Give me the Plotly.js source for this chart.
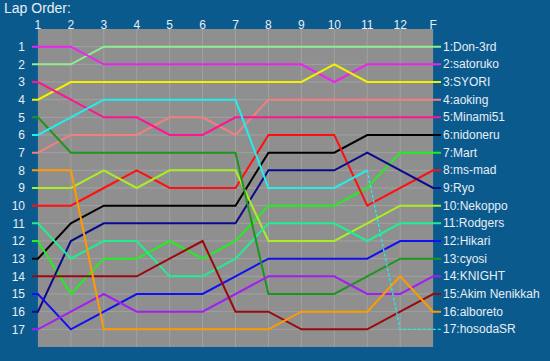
<!DOCTYPE html>
<html>
<head>
<meta charset="utf-8">
<script src="https://cdn.plot.ly/plotly-3.0.1.min.js"></script>
<style>html,body{margin:0;padding:0;background:#0b5a8d;}#chart{width:550px;height:361px;}</style>
</head>
<body>
<div id="chart"></div>
<script>
// Lap labels (x categories)
const lapLabels = ['1','2','3','4','5','6','7','8','9','10','11','12','F'];

// Driver names (final order)
const drivers = ['Don-3rd','satoruko','SYORI','aoking','Minami51','nidoneru','Mart','ms-mad','Ryo','Nekoppo','Rodgers','Hikari','cyosi','KNIGHT','Akim Nenikkah','alboreto','hosodaSR'];

// Positions per lap (1..12, F)
const posDon      = [2,2,1,1,1,1,1,1,1,1,1,1,1];
const posSatoruko = [1,1,2,2,2,2,2,2,2,3,2,2,2];
const posSyori    = [4,3,3,3,3,3,3,3,3,2,3,3,3];
const posAoking   = [7,6,6,6,5,5,6,4,4,4,4,4,4];
const posMinami   = [3,4,5,5,6,6,5,5,5,5,5,5,5];
const posNidoneru = [13,11,10,10,10,10,10,7,7,7,6,6,6];
const posMart     = [12,15,13,13,12,13,12,10,10,10,9,7,7];
const posMsmad    = [10,10,9,8,9,9,9,6,6,6,10,9,8];
const posRyo      = [16,12,11,11,11,11,11,8,8,8,7,8,9];
const posNekoppo  = [9,9,8,9,8,8,8,12,12,12,11,10,10];
const posRodgers  = [11,13,12,12,14,14,13,11,11,11,12,11,11];
const posHikari   = [15,17,16,15,15,15,14,13,13,13,13,12,12];
const posCyosi    = [5,7,7,7,7,7,7,15,15,15,14,13,13];
const posKnight   = [17,16,15,16,16,16,15,14,14,14,15,15,14];
const posAkim     = [14,14,14,14,13,12,16,16,17,17,17,16,15];
const posAlboreto = [8,8,17,17,17,17,17,17,16,16,16,14,16];
const posHosoda   = [6,5,4,4,4,4,4,9,9,9,8,17,17];
// hosodaSR retired after lap 11 (index 10): shown dashed afterwards
const hosodaRetiredIdx = 10;

const positions = [posDon,posSatoruko,posSyori,posAoking,posMinami,posNidoneru,posMart,posMsmad,posRyo,posNekoppo,posRodgers,posHikari,posCyosi,posKnight,posAkim,posAlboreto,posHosoda];
const colors = ['#90ee90','#ee22ee','#f2f200','#f08080','#ff1493','#000000','#22ee22','#ff1010','#0a0a8a','#aaee22','#20ee90','#1010f0','#1c961c','#a020f0','#9a0a0a','#ff9a00','#22eeee'];

const nLaps = lapLabels.length;
const xLaps = lapLabels.map((_, i) => i + 1);
const leftExt = 0.82, rightExt = 13.24;

const traces = [];
positions.forEach((p, d) => {
  let xs = [leftExt].concat(xLaps);
  let ys = [p[0]].concat(p);
  let dashX = null, dashY = null;
  if (d === 16) {
    const cut = hosodaRetiredIdx + 1; // index in xs
    dashX = xs.slice(cut).concat([rightExt]);
    dashY = ys.slice(cut).concat([p[p.length - 1]]);
    xs = xs.slice(0, cut + 1);
    ys = ys.slice(0, cut + 1);
  } else {
    xs.push(rightExt);
    ys.push(p[p.length - 1]);
  }
  traces.push({x: xs, y: ys, type: 'scatter', mode: 'lines', line: {color: colors[d], width: 2}, hoverinfo: 'skip', showlegend: false});
  if (dashX) {
    traces.push({x: dashX, y: dashY, type: 'scatter', mode: 'lines', line: {color: colors[d], width: 1.3, dash: '3px,2px'}, hoverinfo: 'skip', showlegend: false});
  }
});

const nRanks = drivers.length;
const shapes = [{type: 'rect', xref: 'x', yref: 'y', x0: 1, x1: nLaps, y0: 0, y1: nRanks + 1, fillcolor: '#8f8f8f', line: {width: 0}, layer: 'below'}];
for (let i = 2; i < nLaps; i++) {
  shapes.push({type: 'line', xref: 'x', yref: 'y', x0: i, x1: i, y0: 0, y1: nRanks + 1, line: {color: '#a2a2a2', width: 1}, layer: 'below'});
}
for (let r = 1; r <= nRanks; r++) {
  shapes.push({type: 'line', xref: 'x', yref: 'y', x0: 1, x1: nLaps, y0: r, y1: r, line: {color: '#a2a2a2', width: 1}, layer: 'below'});
}

const annotations = drivers.map((name, i) => ({
  x: rightExt, y: positions[i][nLaps - 1], xref: 'x', yref: 'y',
  text: (positions[i][nLaps - 1]) + ':' + name, showarrow: false,
  xanchor: 'left', yanchor: 'middle', xshift: 0,
  font: {family: 'Liberation Sans, Arial, sans-serif', size: 12, color: '#e6eef6'}
}));

const font = {family: 'Liberation Sans, Arial, sans-serif', size: 12, color: '#e6eef6'};
const layout = {
  width: 550, height: 361,
  paper_bgcolor: '#0b5a8d', plot_bgcolor: 'rgba(0,0,0,0)',
  margin: {l: 32, r: 109, t: 29, b: 14, pad: 0},
  title: {text: 'Lap Order:', x: 4 / 550, xref: 'container', xanchor: 'left', y: 1 - 8.5 / 361, yref: 'container', yanchor: 'middle', font: {family: 'Liberation Sans, Arial, sans-serif', size: 14, color: '#e6eef6'}},
  xaxis: {range: [leftExt, rightExt], side: 'top', tickvals: xLaps, ticktext: lapLabels, showgrid: false, zeroline: false, showline: false, ticks: '', tickfont: font, ticklabelstandoff: -3, fixedrange: true},
  yaxis: {range: [nRanks + 1, 0], tickvals: drivers.map((_, i) => i + 1), ticktext: drivers.map((_, i) => String(i + 1)), showgrid: false, zeroline: false, showline: false, ticks: '', tickfont: font, ticklabelstandoff: 6, fixedrange: true},
  shapes: shapes,
  annotations: annotations,
  showlegend: false
};

Plotly.newPlot('chart', traces, layout, {displayModeBar: false, staticPlot: true});
</script>
</body>
</html>
